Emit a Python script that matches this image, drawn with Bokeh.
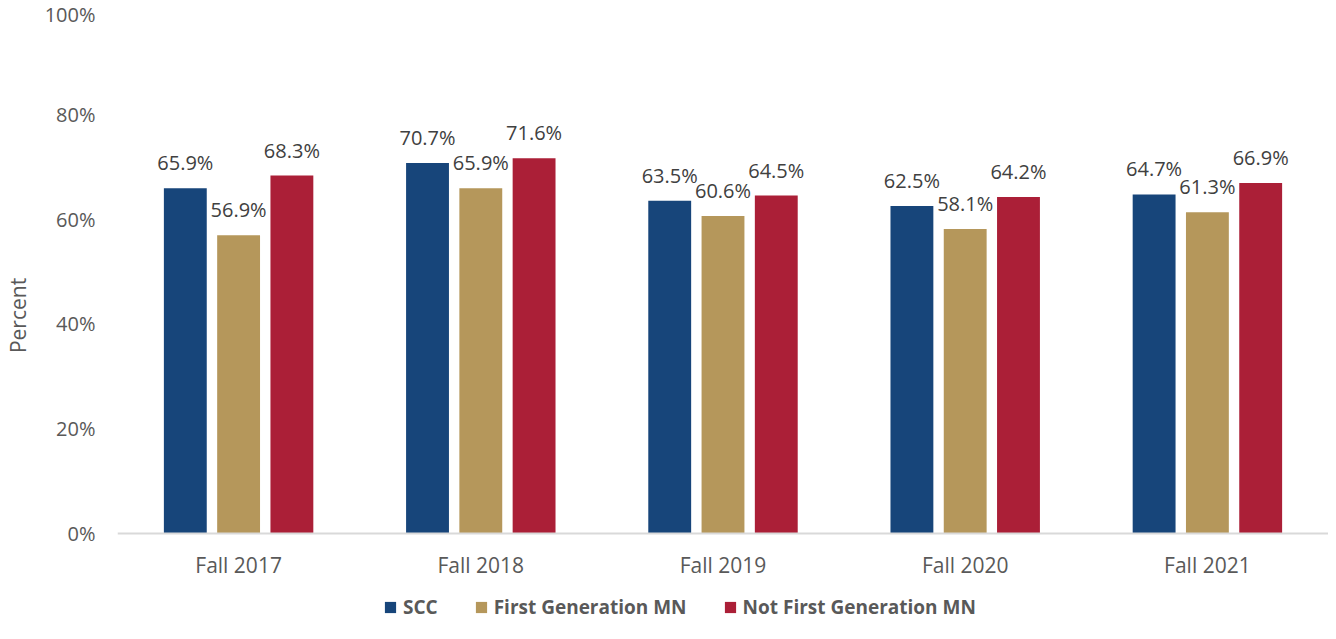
from bokeh.plotting import figure
from bokeh.models import (ColumnDataSource, FactorRange, Range1d, Legend, LegendItem,
                          PrintfTickFormatter, LabelSet, Span)
from bokeh.transform import dodge
from bokeh.embed import file_html
from bokeh.resources import INLINE
from bokeh.core.properties import value

categories = ["Fall 2017", "Fall 2018", "Fall 2019", "Fall 2020", "Fall 2021"]
series_names = ["SCC", "First Generation MN", "Not First Generation MN"]
scc = [65.9, 70.7, 63.5, 62.5, 64.7]
first_gen = [56.9, 65.9, 60.6, 58.1, 61.3]
not_first_gen = [68.3, 71.6, 64.5, 64.2, 66.9]
colors = ["#17457A", "#B5975B", "#AB1F37"]
y_ticks = [0, 20, 40, 60, 80, 100]

FONT = "Open Sans"

# layout: 0..100% occupies 524 px; the frame extends below 0 to hold tick labels and legend
PLOT_PX = 524
FRAME_H = 612
y_start = 100 - FRAME_H * 100.0 / PLOT_PX

p = figure(x_range=FactorRange(*categories, range_padding=0), y_range=Range1d(y_start, 100),
           frame_width=1211, frame_height=FRAME_H, output_backend="svg", toolbar_location=None,
           min_border_left=109, min_border_right=0, min_border_top=9, min_border_bottom=0)
p.outline_line_color = None
p.xgrid.grid_line_color = None
p.ygrid.grid_line_color = None
p.xaxis.visible = False

src = ColumnDataSource(dict(cat=categories, scc=scc, fg=first_gen, nfg=not_first_gen,
                            scc_l=[f"{v:.1f}%" for v in scc],
                            fg_l=[f"{v:.1f}%" for v in first_gen],
                            nfg_l=[f"{v:.1f}%" for v in not_first_gen]))

offsets = [-0.22, 0.0, 0.22]
cols = ["scc", "fg", "nfg"]
items = []
for off, c, col, name in zip(offsets, cols, colors, series_names):
    r = p.vbar(x=dodge("cat", off, range=p.x_range), top=c, width=0.177, source=src,
               fill_color=col, line_color=None)
    items.append(LegendItem(label=name, renderers=[r]))
    lbl = LabelSet(x=dodge("cat", off, range=p.x_range), y=c, text=c + "_l", source=src,
                   text_align="center", text_baseline="bottom", y_offset=12,
                   text_font=value(FONT), text_font_size="20px", text_color="#404040")
    p.add_layout(lbl)

# category axis: baseline rule and labels
p.add_layout(Span(location=0, dimension="width", line_color="#D9D9D9", line_width=2))
cat_src = ColumnDataSource(dict(cat=categories, y=[0] * len(categories)))
p.add_layout(LabelSet(x="cat", y="y", text="cat", source=cat_src, y_offset=-31,
                      text_align="center", text_baseline="middle",
                      text_font=value(FONT), text_font_size="21px", text_color="#595959"))

p.yaxis.ticker = y_ticks
p.yaxis.formatter = PrintfTickFormatter(format="%d%%")
p.yaxis.axis_line_color = None
p.yaxis.major_tick_line_color = None
p.yaxis.minor_tick_line_color = None
p.yaxis.major_label_text_font = FONT
p.yaxis.major_label_text_font_size = "20px"
p.yaxis.major_label_text_color = "#595959"
p.yaxis.major_label_standoff = 16
p.yaxis.axis_label = "Percent"
p.yaxis.axis_label_text_font = FONT
p.yaxis.axis_label_text_font_size = "21px"
p.yaxis.axis_label_text_font_style = "normal"
p.yaxis.axis_label_text_color = "#595959"
p.yaxis.axis_label_standoff = 10

legend = Legend(items=items, orientation="horizontal", location=(266, 1),
                label_text_font=FONT, label_text_font_size="19px", label_text_font_style="bold",
                label_text_color="#595959", glyph_width=14, glyph_height=14, label_height=20,
                spacing=36, label_standoff=6, border_line_color=None,
                background_fill_alpha=0, margin=0, padding=0)
p.add_layout(legend, "center")

open("out.html", "w").write(file_html(p, INLINE))
